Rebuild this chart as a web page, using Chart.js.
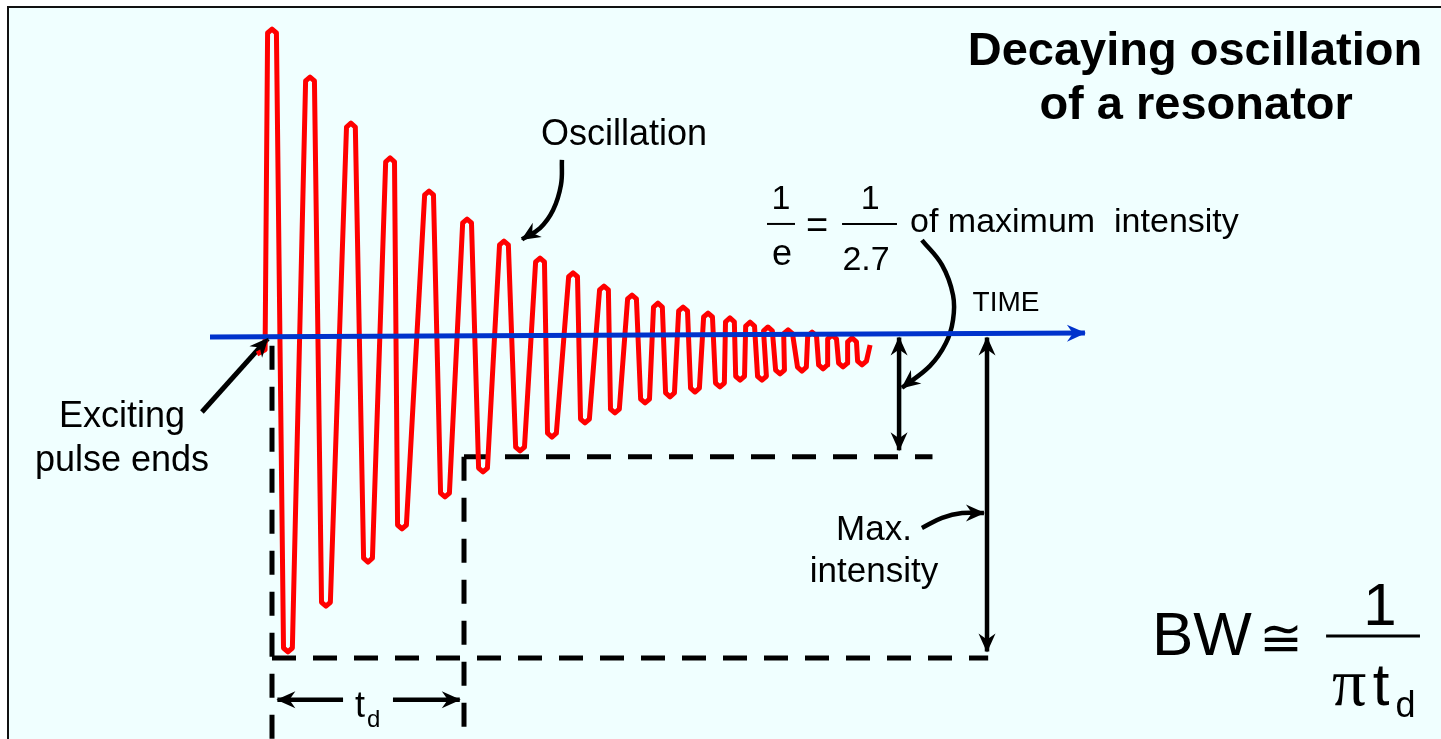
<!DOCTYPE html>
<html>
<head>
<meta charset="utf-8">
<title>Decaying oscillation of a resonator</title>
<script src="https://cdn.jsdelivr.net/npm/chart.js@4.4.1/dist/chart.umd.min.js"></script>
<style>
  html, body { margin: 0; padding: 0; background: #ffffff; }
  #panel {
    position: absolute; left: 7px; top: 6px; right: 0; bottom: 0;
    background: #f0ffff;
    border-left: 2px solid #111;
    border-top: 2px solid #111;
  }
  #wrap { position: absolute; left: 0; top: 0; width: 1441px; height: 739px; }
</style>
</head>
<body>
<div id="panel"></div>
<div id="wrap"><canvas id="grafico"></canvas></div>
<script>
// time in units of t_d (0 = exciting pulse ends), amplitude relative to max intensity
const leadT = [-0.078, -0.036];
const leadA = [-0.056, -0.043];
const peakT = [0.000, 0.198, 0.411, 0.615, 0.818, 1.016, 1.208, 1.396, 1.568, 1.729, 1.875,
               2.010, 2.141, 2.271, 2.385, 2.490, 2.583, 2.688, 2.813, 2.917, 3.021];
const peakA = [0.953, 0.804, 0.661, 0.553, 0.450, 0.363, 0.295, 0.242, 0.196, 0.155, 0.127,
               0.102, 0.090, 0.071, 0.056, 0.043, 0.028, 0.019, 0.012, 0.003, -0.006];
const troughT = [0.083, 0.281, 0.500, 0.677, 0.901, 1.099, 1.292, 1.458, 1.630, 1.786, 1.943,
                 2.073, 2.203, 2.333, 2.438, 2.552, 2.646, 2.760, 2.870, 2.974, 3.073];
const troughA = [-0.981, -0.839, -0.702, -0.599, -0.500, -0.422, -0.357, -0.314, -0.270, -0.239, -0.208,
                 -0.189, -0.174, -0.158, -0.137, -0.137, -0.118, -0.109, -0.102, -0.096, -0.090];
const tailT = [3.115];
const tailA = [-0.028];

const maxLevel = -1;        // max intensity
const decayLevel = -0.375;  // 1/e of max intensity
const decayTime = 1;        // t_d
const axisT = [-0.323, 4.234];
const axisA = [-0.003, 0.009];

const RED = '#ff0000';
const BLUE = '#0033cc';
const BLACK = '#000000';
const capHalf = 0.023;
const capDrop = 0.012;

// polyline of the oscillation, each extremum drawn with a short chamfered cap
const wave = [];
leadT.forEach((t, i) => wave.push({ x: t, y: leadA[i] }));
peakT.forEach((t, i) => {
    wave.push({ x: t - capHalf, y: peakA[i] - capDrop }, { x: t, y: peakA[i] }, { x: t + capHalf, y: peakA[i] - capDrop });
    const u = troughT[i], v = troughA[i];
    wave.push({ x: u - capHalf, y: v + capDrop }, { x: u, y: v }, { x: u + capHalf, y: v + capDrop });
});
tailT.forEach((t, i) => wave.push({ x: t, y: tailA[i] }));

function linea(pts, opts) {
    return Object.assign({
        data: pts.map(p => ({ x: p[0], y: p[1] })),
        borderColor: BLACK,
        borderWidth: 4.5,
        pointRadius: 0,
        tension: 0,
        fill: false
    }, opts);
}

const dash = [24, 17];
const datasets = [
    linea([[axisT[0], axisA[0]], [axisT[1], axisA[1]]], { borderColor: BLUE, borderWidth: 5, arrow: 'end' }),
    { data: wave, borderColor: RED, borderWidth: 5, pointRadius: 0, tension: 0, fill: false, borderJoinStyle: 'round' },
    // dashed guides
    linea([[0, -0.03], [0, -1.35]], { borderDash: dash, borderWidth: 5 }),
    linea([[0, maxLevel], [3.73, maxLevel]], { borderDash: dash, borderWidth: 5 }),
    linea([[decayTime, decayLevel], [decayTime, -1.35]], { borderDash: dash, borderWidth: 5 }),
    linea([[decayTime, decayLevel], [3.44, decayLevel]], { borderDash: dash, borderWidth: 5 }),
    // measuring arrows
    linea([[3.266, -0.005], [3.266, decayLevel + 0.02]], { arrow: 'both' }),
    linea([[3.724, -0.005], [3.724, maxLevel + 0.02]], { arrow: 'both' }),
    linea([[0.370, -1.13], [0.028, -1.13]], { arrow: 'end' }),
    linea([[0.630, -1.13], [0.978, -1.13]], { arrow: 'end' }),
    // pointers
    linea([[-0.365, -0.236], [-0.022, -0.008]], { arrow: 'end', borderWidth: 5 }),
    linea([[1.510, 0.547], [1.505, 0.469], [1.464, 0.391], [1.396, 0.335], [1.302, 0.300]], { tension: 0.4, arrow: 'end' }),
    linea([[3.385, 0.298], [3.490, 0.220], [3.547, 0.127], [3.547, 0.050], [3.510, -0.022], [3.427, -0.093], [3.281, -0.161]], { tension: 0.4, arrow: 'end' }),
    linea([[3.385, -0.596], [3.490, -0.565], [3.594, -0.550], [3.708, -0.550]], { tension: 0.4, arrow: 'end' }),
    // fraction bars
    linea([[2.578, 0.348], [2.724, 0.348]], { borderWidth: 2 }),
    linea([[2.969, 0.348], [3.255, 0.348]], { borderWidth: 2 }),
    linea([[5.490, -0.932], [5.979, -0.932]], { borderWidth: 3 })
];

const SANS = "'Liberation Sans', Arial, 'DejaVu Sans', sans-serif";
const SERIF = "'Liberation Serif', 'DejaVu Serif', serif";
const rotulos = [
    { text: 'Decaying oscillation', t: 4.807, a: 0.842, font: 'bold 47px ' + SANS, align: 'center' },
    { text: 'of a resonator', t: 4.813, a: 0.674, font: 'bold 47px ' + SANS, align: 'center' },
    { text: 'Oscillation', t: 1.833, a: 0.593, font: '36px ' + SANS, align: 'center' },
    { text: 'Exciting', t: -0.781, a: -0.283, font: '36px ' + SANS, align: 'center' },
    { text: 'pulse ends', t: -0.781, a: -0.419, font: '36px ' + SANS, align: 'center' },
    { text: 'TIME', t: 3.823, a: 0.078, font: '28px ' + SANS, align: 'center' },
    { text: '1', t: 2.651, a: 0.394, font: '34px ' + SANS, align: 'center' },
    { text: 'e', t: 2.656, a: 0.220, font: '36px ' + SANS, align: 'center' },
    { text: '=', t: 2.839, a: 0.337, font: '38px ' + SANS, align: 'center', base: 'middle' },
    { text: '1', t: 3.115, a: 0.394, font: '34px ' + SANS, align: 'center' },
    { text: '2.7', t: 3.094, a: 0.205, font: '34px ' + SANS, align: 'center' },
    { text: 'of maximum  intensity', t: 3.323, a: 0.323, font: '34px ' + SANS, align: 'left' },
    { text: 'Max.', t: 3.135, a: -0.634, font: '35px ' + SANS, align: 'center' },
    { text: 'intensity', t: 3.135, a: -0.764, font: '35px ' + SANS, align: 'center' },
    { text: 't', t: 0.432, a: -1.183, font: '36px ' + SANS, align: 'left' },
    { text: 'd', t: 0.495, a: -1.214, font: '24px ' + SANS, align: 'left' },
    { text: 'BW', t: 4.583, a: -0.991, font: '62px ' + SANS, align: 'left' },
    { text: '\u2245', t: 5.255, a: -0.950, font: '52px ' + SANS, align: 'center', base: 'middle' },
    { text: '1', t: 5.771, a: -0.898, font: '60px ' + SANS, align: 'center' },
    { text: '\u03c0', t: 5.521, a: -1.146, font: '68px ' + SERIF, align: 'left' },
    { text: 't', t: 5.733, a: -1.146, font: '60px ' + SANS, align: 'left' },
    { text: 'd', t: 5.852, a: -1.183, font: '36px ' + SANS, align: 'left' }
];

const puntas = {
    id: 'puntas',
    afterDatasetsDraw(chart) {
        const ctx = chart.ctx;
        chart.data.datasets.forEach((ds, i) => {
            if (!ds.arrow) return;
            const pts = chart.getDatasetMeta(i).data;
            const ends = [[pts[pts.length - 1], pts[pts.length - 2]]];
            if (ds.arrow === 'both') ends.push([pts[0], pts[1]]);
            ends.forEach(([tip, from]) => {
                const ang = Math.atan2(tip.y - from.y, tip.x - from.x);
                ctx.save();
                ctx.translate(tip.x, tip.y);
                ctx.rotate(ang);
                ctx.beginPath();
                ctx.moveTo(1, 0);
                ctx.lineTo(-18, -8.5);
                ctx.lineTo(-12, 0);
                ctx.lineTo(-18, 8.5);
                ctx.closePath();
                ctx.fillStyle = ds.borderColor;
                ctx.fill();
                ctx.restore();
            });
        });
    }
};

const textos = {
    id: 'textos',
    afterDraw(chart) {
        const ctx = chart.ctx;
        const sx = chart.scales.x, sy = chart.scales.y;
        ctx.save();
        ctx.fillStyle = BLACK;
        rotulos.forEach(r => {
            ctx.font = r.font;
            ctx.textAlign = r.align;
            ctx.textBaseline = r.base || 'alphabetic';
            ctx.fillText(r.text, sx.getPixelForValue(r.t), sy.getPixelForValue(r.a));
        });
        ctx.restore();
    }
};

new Chart(document.getElementById('grafico').getContext('2d'), {
    type: 'line',
    data: { datasets: datasets },
    options: {
        responsive: true,
        maintainAspectRatio: false,
        animation: false,
        layout: { padding: 0 },
        scales: {
            x: { type: 'linear', min: -1.4167, max: 6.0885, display: false },
            y: { type: 'linear', min: -1.2516, max: 1.0435, display: false }
        },
        plugins: {
            legend: { display: false },
            tooltip: { enabled: false }
        }
    },
    plugins: [puntas, textos]
});
</script>
</body>
</html>
